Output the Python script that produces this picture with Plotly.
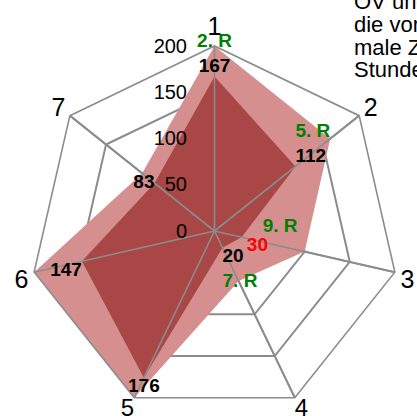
import plotly.graph_objects as go

categories = ["1", "2", "3", "4", "5", "6", "7"]
upper_values = [200, 160, 100, 60, 200, 200, 100]
values = [167, 112, 30, 20, 176, 147, 83]
value_colors = ["black", "black", "red", "black", "black", "black", "black"]
ranks = ["2. R", "5. R", "9. R", "7. R", "", "", ""]
radial_ticks = [0, 50, 100, 150, 200]
note_lines = ["ÖV und", "die von", "male Zeit", "Stunden"]

PINK = "#D48F8E"
DARK = "#A84745"
GRID = "#8C8C8C"
FONT = "Liberation Sans, Arial, sans-serif"
RMAX = max(radial_ticks)

fig = go.Figure()

def closed(seq):
    return list(seq) + [seq[0]]

fig.add_trace(go.Scatterpolar(
    r=closed(upper_values), theta=closed(categories), mode="lines",
    fill="toself", fillcolor=PINK, line=dict(width=0, color=PINK),
    hoverinfo="skip", showlegend=False))
fig.add_trace(go.Scatterpolar(
    r=closed(values), theta=closed(categories), mode="lines",
    fill="toself", fillcolor=DARK, line=dict(width=0, color=DARK),
    hoverinfo="skip", showlegend=False))

# spokes drawn above the fills
for c in categories:
    fig.add_trace(go.Scatterpolar(
        r=[0, RMAX], theta=[c, c], mode="lines",
        line=dict(color=GRID, width=1.6), hoverinfo="skip", showlegend=False))

# value labels
value_pos = ["top center", "top right", "bottom right", "bottom right",
             "bottom center", "bottom left", "middle left"]
value_text = [str(v) for v in values]
value_text[2] = "\u00a0" + value_text[2]
fig.add_trace(go.Scatterpolar(
    r=values, theta=categories, mode="text",
    text=value_text, textposition=value_pos,
    textfont=dict(family=FONT, size=19, color=value_colors, weight="bold"),
    hoverinfo="skip", showlegend=False))

# rank labels
rank_pos = ["top center", "top right", "top right", "bottom right",
            "top center", "top center", "top center"]
rank_text = []
for i, t in enumerate(ranks):
    if i in (0, 1):
        rank_text.append(t + "<br> ")
    elif i == 2:
        rank_text.append("\u00a0\u00a0\u00a0\u00a0" + t)
    elif i == 3:
        rank_text.append(" <br>" + t)
    else:
        rank_text.append(t)
fig.add_trace(go.Scatterpolar(
    r=values, theta=categories, mode="text",
    text=rank_text, textposition=rank_pos,
    textfont=dict(family=FONT, size=19, color="green", weight="bold"),
    hoverinfo="skip", showlegend=False))

# category labels 4 and 5 (placed beside their corners)
bottom_cats = ["4", "5"]
fig.add_trace(go.Scatterpolar(
    r=[RMAX] * len(bottom_cats), theta=bottom_cats, mode="text",
    text=bottom_cats, textposition=["bottom right", "bottom left"],
    textfont=dict(family=FONT, size=24, color="black"),
    hoverinfo="skip", showlegend=False, cliponaxis=False))

fig.update_layout(
    width=417, height=416,
    margin=dict(l=0, r=0, t=0, b=0),
    paper_bgcolor="white",
    font=dict(family=FONT, color="black"),
    polar=dict(
        domain=dict(x=[29.5 / 417, 399.5 / 417], y=[0, 370 / 416]),
        bgcolor="white",
        gridshape="linear",
        angularaxis=dict(
            direction="clockwise", rotation=90,
            categoryorder="array", categoryarray=categories,
            tickmode="array", tickvals=categories,
            ticktext=[c if c not in bottom_cats else "" for c in categories],
            showline=True, linecolor=GRID, linewidth=1.6,
            showgrid=True, gridcolor=GRID, gridwidth=1.6,
            ticks="", tickfont=dict(size=25, family=FONT, color="black")),
        radialaxis=dict(
            range=[0, RMAX], angle=90, side="counterclockwise",
            tickvals=radial_ticks, ticktext=[str(t) for t in radial_ticks],
            tickangle=90, showline=False,
            ticks="outside", ticklen=20, tickcolor="rgba(0,0,0,0)",
            showgrid=True, gridcolor=GRID, gridwidth=1.6,
            tickfont=dict(size=20, family=FONT, color="black")),
    ),
    annotations=[dict(
        xref="paper", yref="paper", x=352 / 417, y=1 - c / 416,
        xanchor="left", yanchor="middle", align="left", showarrow=False,
        text=line, font=dict(size=22, family=FONT, color="black"))
        for c, line in zip([1.5, 24.5, 47, 69.5], note_lines)],
)

fig.write_html(
    "out.html",
    config={"displayModeBar": False},
    post_script="document.body.style.margin='0';document.body.style.overflow='hidden';",
)
